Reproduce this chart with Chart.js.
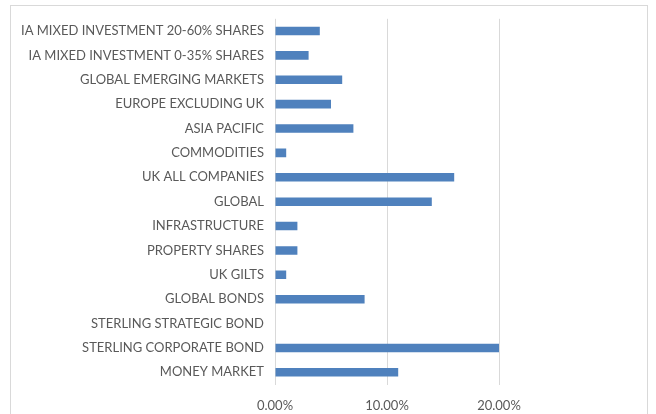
<!DOCTYPE html>
<html>
<head>
<meta charset="utf-8">
<script src="https://cdn.jsdelivr.net/npm/chart.js@4"></script>
<style>
  body { margin: 0; background: #fff; }
  #wrap { position: relative; width: 656px; height: 414px; }
  #frame { position: absolute; left: 10px; top: 5px; width: 638px; height: 420px; border: 1px solid #d9d9d9; box-sizing: border-box; }
  canvas { position: absolute; left: 0; top: 0; }
</style>
</head>
<body>
<div id="wrap">
  <div id="frame"></div>
  <canvas id="chart" width="656" height="414"></canvas>
</div>
<script>
// sectors, top to bottom
var sectors = [
  'IA MIXED INVESTMENT 20-60% SHARES',
  'IA MIXED INVESTMENT 0-35% SHARES',
  'GLOBAL EMERGING MARKETS',
  'EUROPE EXCLUDING UK',
  'ASIA PACIFIC',
  'COMMODITIES',
  'UK ALL COMPANIES',
  'GLOBAL',
  'INFRASTRUCTURE',
  'PROPERTY SHARES',
  'UK GILTS',
  'GLOBAL BONDS',
  'STERLING STRATEGIC BOND',
  'STERLING CORPORATE BOND',
  'MONEY MARKET'
];
// weights in %
var weights = [4, 3, 6, 5, 7, 1, 16, 14, 2, 2, 1, 8, 0, 20, 11];
var xTicks = [0, 10, 20];

var ctx = document.getElementById('chart').getContext('2d');
var chart = new Chart(ctx, {
  type: 'bar',
  data: {
    labels: sectors,
    datasets: [{
      data: weights,
      backgroundColor: '#4F81BD',
      barPercentage: 0.7,
      categoryPercentage: 0.5
    }]
  },
  options: {
    indexAxis: 'y',
    responsive: false,
    animation: false,
    layout: { padding: { top: 16, right: 45, bottom: 0, left: 0 } },
    plugins: { legend: { display: false }, tooltip: { enabled: false } },
    scales: {
      x: {
        min: 0,
        max: 30,
        ticks: {
          stepSize: 10,
          padding: 14,
          color: '#595959',
          font: { family: 'Lato', size: 13 },
          callback: function(v) { return xTicks.indexOf(v) >= 0 ? v.toFixed(2) + '%' : ''; }
        },
        grid: {
          drawTicks: false,
          color: function(c) { return xTicks.indexOf(c.tick.value) >= 0 ? '#d9d9d9' : 'rgba(0,0,0,0)'; }
        },
        border: { display: false },
        afterFit: function(s) { s.height = 29.5; }
      },
      y: {
        ticks: {
          padding: 11,
          color: '#595959',
          font: { family: 'Lato', size: 13 }
        },
        grid: { display: false, drawTicks: false },
        border: { display: false },
        afterFit: function(s) { s.width = 275; }
      }
    }
  }
});
</script>
</body>
</html>
